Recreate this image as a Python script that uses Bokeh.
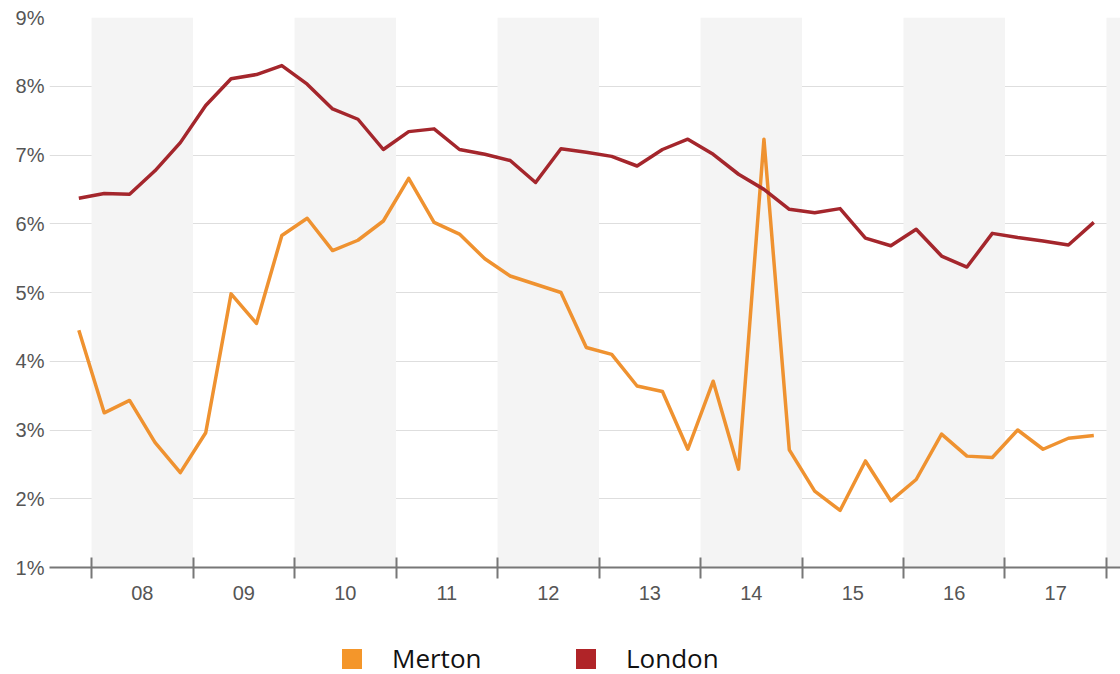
from bokeh.plotting import figure
from bokeh.layouts import column
from bokeh.models import (Range1d, FixedTicker, PrintfTickFormatter, CustomJSTickFormatter,
                          BoxAnnotation, Legend, LegendItem, ColumnDataSource)
from bokeh.embed import file_html
from bokeh.resources import INLINE

# Quarterly periods, Q4 2007 to Q4 2017
periods = ["2007Q4",
           "2008Q1", "2008Q2", "2008Q3", "2008Q4",
           "2009Q1", "2009Q2", "2009Q3", "2009Q4",
           "2010Q1", "2010Q2", "2010Q3", "2010Q4",
           "2011Q1", "2011Q2", "2011Q3", "2011Q4",
           "2012Q1", "2012Q2", "2012Q3", "2012Q4",
           "2013Q1", "2013Q2", "2013Q3", "2013Q4",
           "2014Q1", "2014Q2", "2014Q3", "2014Q4",
           "2015Q1", "2015Q2", "2015Q3", "2015Q4",
           "2016Q1", "2016Q2", "2016Q3", "2016Q4",
           "2017Q1", "2017Q2", "2017Q3", "2017Q4"]

# Rate, %
merton = [4.45,
          3.25, 3.43, 2.82, 2.38,
          2.96, 4.98, 4.55, 5.83,
          6.08, 5.61, 5.76, 6.04,
          6.66, 6.02, 5.85, 5.49,
          5.24, 5.12, 5.00, 4.20,
          4.10, 3.64, 3.56, 2.72,
          3.71, 2.43, 7.23, 2.71,
          2.11, 1.83, 2.55, 1.97,
          2.28, 2.94, 2.62, 2.60,
          3.00, 2.72, 2.88, 2.92]

london = [6.37,
          6.44, 6.43, 6.77, 7.18,
          7.72, 8.11, 8.17, 8.30,
          8.03, 7.67, 7.52, 7.08,
          7.34, 7.38, 7.08, 7.01,
          6.92, 6.60, 7.09, 7.04,
          6.98, 6.84, 7.08, 7.23,
          7.01, 6.72, 6.50, 6.21,
          6.16, 6.22, 5.79, 5.68,
          5.92, 5.53, 5.37, 5.86,
          5.80, 5.75, 5.69, 6.02]

years = list(range(2008, 2018))
shaded_years = [2008, 2010, 2012, 2014, 2016, 2018]
pct_ticks = [1, 2, 3, 4, 5, 6, 7, 8, 9]

series_names = ["Merton", "London"]
line_colors = ["#ef9230", "#a4262c"]
key_colors = ["#f4962a", "#b02428"]


def period_to_x(p):
    y, q = p.split("Q")
    return int(y) + (int(q) - 0.5) / 4.0


x = [period_to_x(p) for p in periods]
src = ColumnDataSource(dict(x=x, merton=merton, london=london))

p = figure(width=1120, height=620, output_backend="svg", toolbar_location=None,
           x_range=Range1d(2007.586, 2018.138), y_range=Range1d(1, 9),
           min_border_left=49, min_border_right=0, min_border_top=17,
           min_border_bottom=53, background_fill_color="white",
           border_fill_color="white")
p.outline_line_color = None

# alternating year bands
for yr in shaded_years:
    p.add_layout(BoxAnnotation(left=yr, right=yr + 1, fill_color="#f4f4f4",
                               fill_alpha=1.0, line_color=None, level="underlay"))

# grid
p.xgrid.visible = False
p.ygrid.ticker = FixedTicker(ticks=pct_ticks)
p.ygrid.grid_line_color = "#dedede"
p.ygrid.grid_line_width = 1

# lines
p.line("x", "merton", source=src, line_color=line_colors[0], line_width=3.5,
       line_join="round")
p.line("x", "london", source=src, line_color=line_colors[1], line_width=3.5,
       line_join="round")

# y axis
yax = p.yaxis[0]
yax.ticker = FixedTicker(ticks=pct_ticks)
yax.formatter = PrintfTickFormatter(format="%d%%")
yax.axis_line_color = None
yax.major_tick_line_color = None
yax.minor_tick_line_color = None
yax.major_tick_in = 0
yax.major_tick_out = 0
yax.major_label_standoff = 5
yax.major_label_text_font = "Liberation Sans"
yax.major_label_text_font_size = "20px"
yax.major_label_text_color = "#555555"

# x axis: labels at year centres, tick marks at year boundaries
xax = p.xaxis[0]
xax.ticker = FixedTicker(ticks=[yr + 0.5 for yr in years],
                         minor_ticks=[yr for yr in years] + [years[-1] + 1])
xax.formatter = CustomJSTickFormatter(
    code="return String(Math.floor(tick) % 100).padStart(2, '0');")
xax.axis_line_color = "#777777"
xax.axis_line_width = 2
xax.major_tick_line_color = None
xax.major_tick_in = 0
xax.major_tick_out = 0
xax.minor_tick_line_color = "#777777"
xax.minor_tick_line_width = 2
xax.minor_tick_in = 10
xax.minor_tick_out = 11
xax.major_label_standoff = 7
xax.major_label_text_font = "Liberation Sans"
xax.major_label_text_font_size = "20px"
xax.major_label_text_color = "#555555"

# legend strip under the chart (its frame lines up with the chart's frame)
leg = figure(width=1120, height=54, output_backend="svg", toolbar_location=None,
             x_range=Range1d(0, 1), y_range=Range1d(0, 1),
             x_axis_location=None, y_axis_location=None, min_border=0,
             background_fill_color="white", border_fill_color="white")
leg.outline_line_color = None
leg.grid.visible = False

keys = []
for name, col in zip(series_names, key_colors):
    # zero-area quad: only its legend swatch is seen
    r = leg.quad(left=[0], right=[0], top=[0], bottom=[0], fill_color=col,
                 line_color=None)
    keys.append(LegendItem(label=name, renderers=[r]))

legend = Legend(items=keys, orientation="horizontal", location=(290, -2),
                glyph_width=25, glyph_height=25, label_standoff=28,
                label_width=150, spacing=31, padding=0, margin=0,
                border_line_color=None, background_fill_alpha=0,
                label_text_font="Open Sans", label_text_font_size="26px",
                label_text_color="#111111")
leg.add_layout(legend, "center")

open("out.html", "w").write(file_html(column(p, leg, spacing=0), INLINE))
